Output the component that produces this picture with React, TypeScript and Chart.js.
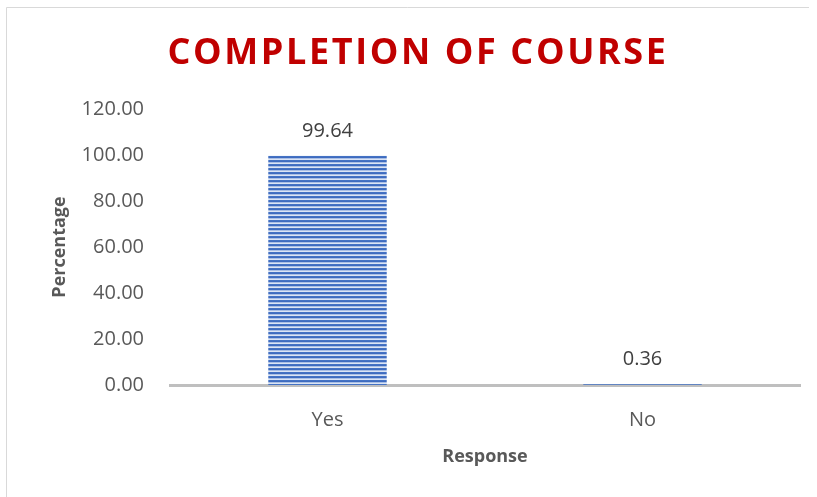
import React, { useEffect, useRef } from "react";
import { Chart, registerables } from "chart.js";

Chart.register(...registerables);

const categories = ["Yes", "No"];
const percentages = [99.64, 0.36];
const valueLabels = ["99.64", "0.36"];
const yTicks = [0, 20, 40, 60, 80, 100, 120];

const TEXT_GREY = "#595959";
const FONT = "'Open Sans', 'DejaVu Sans', sans-serif";

function makeStripePattern(): CanvasPattern | string {
  const c = document.createElement("canvas");
  c.width = 4;
  c.height = 4;
  const g = c.getContext("2d");
  if (!g) return "#4472C4";
  const rows = ["#4472C4", "#3e6bbf", "#a9bfe6", "#dbe4f4"];
  rows.forEach((col, i) => {
    g.fillStyle = col;
    g.fillRect(0, i, 4, 1);
  });
  const p = g.createPattern(c, "repeat");
  return p || "#4472C4";
}

const framePlugin = {
  id: "frame",
  beforeDraw(chart: any) {
    const ctx = chart.ctx;
    ctx.save();
    ctx.fillStyle = "#ffffff";
    ctx.fillRect(0, 0, chart.width, chart.height);
    ctx.strokeStyle = "#d9d9d9";
    ctx.lineWidth = 1;
    ctx.beginPath();
    ctx.moveTo(6.5, chart.height);
    ctx.lineTo(6.5, 7.5);
    ctx.lineTo(809, 7.5);
    ctx.stroke();
    ctx.restore();
  },
};

const titlePlugin = {
  id: "spacedTitle",
  afterDraw(chart: any) {
    const ctx = chart.ctx;
    ctx.save();
    ctx.font = `700 36px ${FONT}`;
    (ctx as any).letterSpacing = "2.6px";
    ctx.fillStyle = "#C00000";
    ctx.textAlign = "center";
    ctx.textBaseline = "middle";
    ctx.fillText("COMPLETION OF COURSE", 418, 54);
    ctx.restore();
  },
};

const valueLabelPlugin = {
  id: "valueLabels",
  afterDatasetsDraw(chart: any) {
    const ctx = chart.ctx;
    const meta = chart.getDatasetMeta(0);
    ctx.save();
    ctx.font = `20px ${FONT}`;
    ctx.fillStyle = "#404040";
    ctx.textAlign = "center";
    ctx.textBaseline = "middle";
    meta.data.forEach((bar: any, i: number) => {
      ctx.fillText(valueLabels[i], bar.x, bar.y - 25);
    });
    ctx.restore();
  },
};

export default function App() {
  const ref = useRef<HTMLCanvasElement | null>(null);

  useEffect(() => {
    if (!ref.current) return;
    const chart = new Chart(ref.current, {
      type: "bar",
      data: {
        labels: categories,
        datasets: [
          {
            data: percentages,
            backgroundColor: makeStripePattern() as any,
            borderWidth: 0,
            categoryPercentage: 1,
            barPercentage: 0.376,
          },
        ],
      },
      options: {
        responsive: false,
        animation: false,
        layout: { padding: { top: 109, right: 17, bottom: 0, left: 0 } },
        plugins: {
          legend: { display: false },
          tooltip: { enabled: false },
          title: { display: false },
        },
        scales: {
          x: {
            grid: { display: false, drawTicks: false },
            border: { display: true, color: "#bfbfbf", width: 3 },
            ticks: {
              color: TEXT_GREY,
              font: { family: FONT, size: 20 },
              padding: 23,
            },
            title: {
              display: true,
              text: "Response",
              color: TEXT_GREY,
              font: { family: FONT, size: 18, weight: "bold" },
              padding: { top: 0, bottom: 29 },
            },
            afterFit(axis: any) {
              axis.height = 112;
            },
          },
          y: {
            min: 0,
            max: 120,
            afterBuildTicks(axis: any) {
              axis.ticks = yTicks.map((v) => ({ value: v }));
            },
            grid: { display: false, drawTicks: false },
            border: { display: false },
            ticks: {
              color: TEXT_GREY,
              font: { family: FONT, size: 20 },
              padding: 26,
              callback: (v: any) => Number(v).toFixed(2),
            },
            title: {
              display: true,
              text: "Percentage",
              color: TEXT_GREY,
              font: { family: FONT, size: 18, weight: "bold" },
              padding: { top: 49, bottom: 0 },
            },
            afterFit(axis: any) {
              axis.width = 170;
            },
          },
        },
      },
      plugins: [framePlugin, titlePlugin, valueLabelPlugin],
    });
    return () => chart.destroy();
  }, []);

  return (
    <div style={{ position: "absolute", left: 0, top: 0, width: 817, height: 497 }}>
      <canvas ref={ref} width={817} height={497} />
    </div>
  );
}
